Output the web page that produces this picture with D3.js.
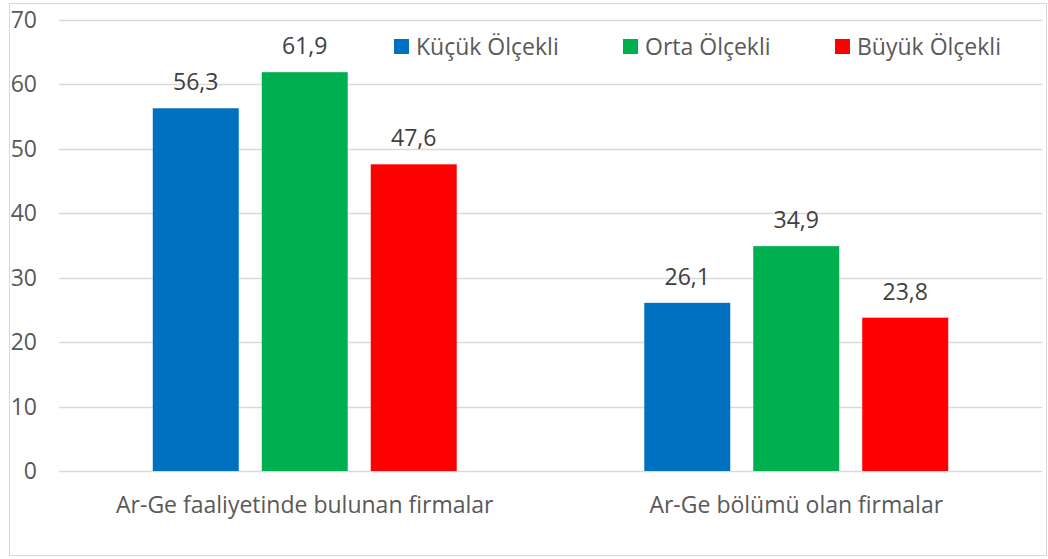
<!DOCTYPE html>
<html>
<head>
<meta charset="UTF-8">
<title>Ar-Ge</title>
<script src="https://cdn.jsdelivr.net/npm/d3@7"></script>
<style>
    body { margin: 0; background: #fff; }
    text { font-family: "Open Sans", sans-serif; }
</style>
</head>
<body>
<svg id="chart" width="1048" height="559"></svg>
<script>
    const categories = ["Ar-Ge faaliyetinde bulunan firmalar", "Ar-Ge bölümü olan firmalar"];
    const seriesNames = ["Küçük Ölçekli", "Orta Ölçekli", "Büyük Ölçekli"];
    const kucuk = [56.3, 26.1];
    const orta = [61.9, 34.9];
    const buyuk = [47.6, 23.8];
    const yTicks = [0, 10, 20, 30, 40, 50, 60, 70];

    const colors = ["#0070c0", "#00b050", "#ff0000"];
    const seriesValues = [kucuk, orta, buyuk];
    const fontSize = 23;

    const svg = d3.select('#chart');

    // outer frame
    svg.append('rect')
        .attr('x', 9.5).attr('y', 3.5)
        .attr('width', 1037).attr('height', 552)
        .attr('fill', '#fff')
        .attr('stroke', '#d9d9d9');

    const plotLeft = 59, plotRight = 1042, plotTop = 20, plotBottom = 471;

    const y = d3.scaleLinear().domain([0, 70]).range([plotBottom, plotTop]);
    const x0 = d3.scaleBand().domain(categories).range([plotLeft, plotRight])
        .paddingInner(0.288).paddingOuter(0.144);
    const x1 = d3.scaleBand().domain(seriesNames).range([0, x0.bandwidth()])
        .padding(0.211);

    // gridlines
    svg.append('g').selectAll('line').data(yTicks).join('line')
        .attr('x1', plotLeft).attr('x2', plotRight)
        .attr('y1', d => Math.round(y(d)) + 0.5).attr('y2', d => Math.round(y(d)) + 0.5)
        .attr('stroke', '#d9d9d9').attr('stroke-width', 1.3);

    // y tick labels
    svg.append('g').selectAll('text').data(yTicks).join('text')
        .attr('x', 37).attr('y', d => y(d))
        .attr('dy', '0.35em')
        .attr('text-anchor', 'end')
        .attr('font-size', fontSize)
        .attr('fill', '#595959')
        .text(d => d);

    // bars
    const groups = svg.append('g').selectAll('g').data(categories).join('g')
        .attr('transform', d => `translate(${x0(d)},0)`);

    groups.each(function (cat, ci) {
        const g = d3.select(this);
        seriesNames.forEach((s, si) => {
            const v = seriesValues[si][ci];
            g.append('rect')
                .attr('x', x1(s)).attr('width', x1.bandwidth())
                .attr('y', y(v)).attr('height', y(0) - y(v))
                .attr('fill', colors[si]);
            g.append('text')
                .attr('x', x1(s) + x1.bandwidth() / 2)
                .attr('y', y(v) - 18)
                .attr('text-anchor', 'middle')
                .attr('font-size', fontSize)
                .attr('fill', '#404040')
                .text(String(v).replace('.', ','));
        });
    });

    // category labels
    svg.append('g').selectAll('text').data(categories).join('text')
        .attr('x', d => x0(d) + x0.bandwidth() / 2)
        .attr('y', 513)
        .attr('text-anchor', 'middle')
        .attr('font-size', fontSize)
        .attr('fill', '#595959')
        .text(d => d);

    // legend
    const legendX = [394, 623, 835];
    const legend = svg.append('g').selectAll('g').data(seriesNames).join('g')
        .attr('transform', (d, i) => `translate(${legendX[i]},39)`);
    legend.append('rect')
        .attr('width', 15).attr('height', 15)
        .attr('fill', (d, i) => colors[i]);
    legend.append('text')
        .attr('x', 22).attr('y', 7.5).attr('dy', '0.35em')
        .attr('font-size', fontSize)
        .attr('fill', '#595959')
        .text(d => d);
</script>
</body>
</html>
